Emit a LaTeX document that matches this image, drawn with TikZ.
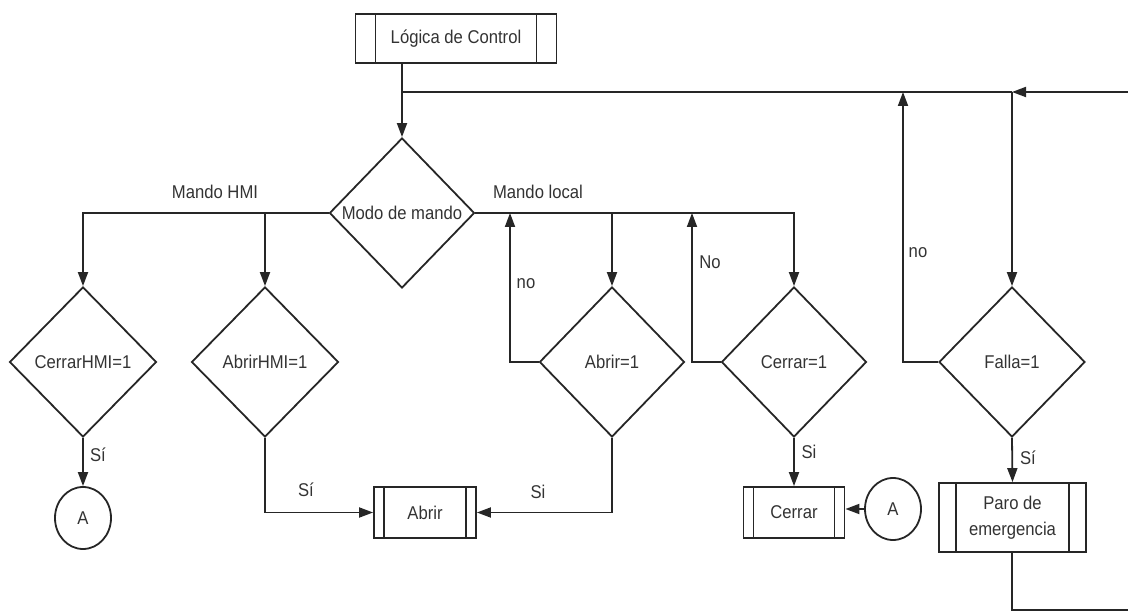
\documentclass[tikz,border=0pt]{standalone}
\usepackage{fontspec}
\setmainfont{Liberation Sans}[FakeStretch=0.9]
\usetikzlibrary{arrows.meta,shapes.geometric}
\newcommand\lbl{\fontsize{18.5}{26}\selectfont}
\tikzset{
  ln/.style={line width=1.8pt, draw=black!85},
  arr/.style={ln, -{Triangle[length=14pt,width=10pt]}},
  txt/.style={font=\lbl, text=black!80, inner sep=0pt},
  dec/.style={ln, diamond, txt, minimum width=#1, minimum height=150pt},
  conn/.style={ln, ellipse, txt, minimum width=56pt, minimum height=62pt},
  predef/.style={ln, rectangle, txt, align=center,
    path picture={\draw[ln]
      ([xshift=#1]path picture bounding box.north west) -- ([xshift=#1]path picture bounding box.south west)
      ([xshift=-#1]path picture bounding box.north east) -- ([xshift=-#1]path picture bounding box.south east);}}
}
\begin{document}
\begin{tikzpicture}[x=1pt, y=-1pt]
\useasboundingbox (0,0) rectangle (1128,612);

% start block
\node[predef=20pt, minimum width=201pt, minimum height=49pt] (logic) at (456,38.5) {Lógica de Control};

% main selector
\node[dec=145pt] (modo) at (402,213) {Modo de mando};

% decisions
\node[dec=147pt] (cerrarhmi) at (83,362) {CerrarHMI=1};
\node[dec=147pt] (abrirhmi) at (265,362) {AbrirHMI=1};
\node[dec=145pt] (abrir1) at (612,362) {Abrir=1};
\node[dec=145pt] (cerrar1) at (794,362) {Cerrar=1};
\node[dec=146pt] (falla) at (1012,362) {Falla=1};

% actions and connectors
\node[conn] (ca1) at (83,518) {A};
\node[predef=10pt, minimum width=102pt, minimum height=51pt] (abrir) at (425,512.5) {Abrir};
\node[predef=10pt, minimum width=101pt, minimum height=51pt] (cerrar) at (794,512.5) {Cerrar};
\node[conn] (ca2) at (893,509) {A};
\node[predef=17pt, minimum width=147pt, minimum height=69pt] (paro) at (1012.5,517.5) {Paro de\\emergencia};

% junction points
\coordinate (top) at (402,92);
\coordinate (jf) at (1012,92);
\coordinate (jn) at (903,92);
\coordinate (jna) at (510,213);
\coordinate (jnc) at (692,213);
\coordinate (rb) at (1140,610);
\coordinate (rt) at (1140,92);

% main loop
\draw[arr] (logic.south -| modo.north) -- (modo.north);
\draw[ln] (paro.south -| jf) |- (rb) -- (rt);
\draw[arr] (rt) -- (jf);
\draw[ln] (jf) -- (top);
\draw[arr] (jf) -- (falla.north);
\draw[arr] (falla.west) -| (jn);
\node[txt] at (918,253) {no};

% HMI branch
\draw[arr] (modo.west) -| (cerrarhmi.north);
\draw[arr] (abrirhmi.north |- modo.west) -- (abrirhmi.north);
\node[txt] at (215,192) {Mando HMI};
\draw[arr] (cerrarhmi.south) -- (ca1.north);
\node[txt] at (98,455) {Sí};
\draw[arr] (abrirhmi.south) |- (abrir.west);
\node[txt] at (306,490) {Sí};

% local branch
\draw[arr] (modo.east) -| (cerrar1.north);
\draw[arr] (abrir1.north |- modo.east) -- (abrir1.north);
\node[txt] at (538,192) {Mando local};
\draw[arr] (abrir1.west) -| (jna);
\node[txt] at (526,284) {no};
\draw[arr] (cerrar1.west) -| (jnc);
\node[txt] at (710,262) {No};
\draw[arr] (abrir1.south) |- (abrir.east);
\node[txt] at (538,492) {Si};
\draw[arr] (cerrar1.south) -- (cerrar.north);
\node[txt] at (809,452) {Si};
\draw[arr] (ca2.west) -- (cerrar.east |- ca2.west);

% emergency
\draw[arr] (falla.south) -- (paro.north);
\node[txt] at (1028,458) {Sí};
\end{tikzpicture}
\end{document}
